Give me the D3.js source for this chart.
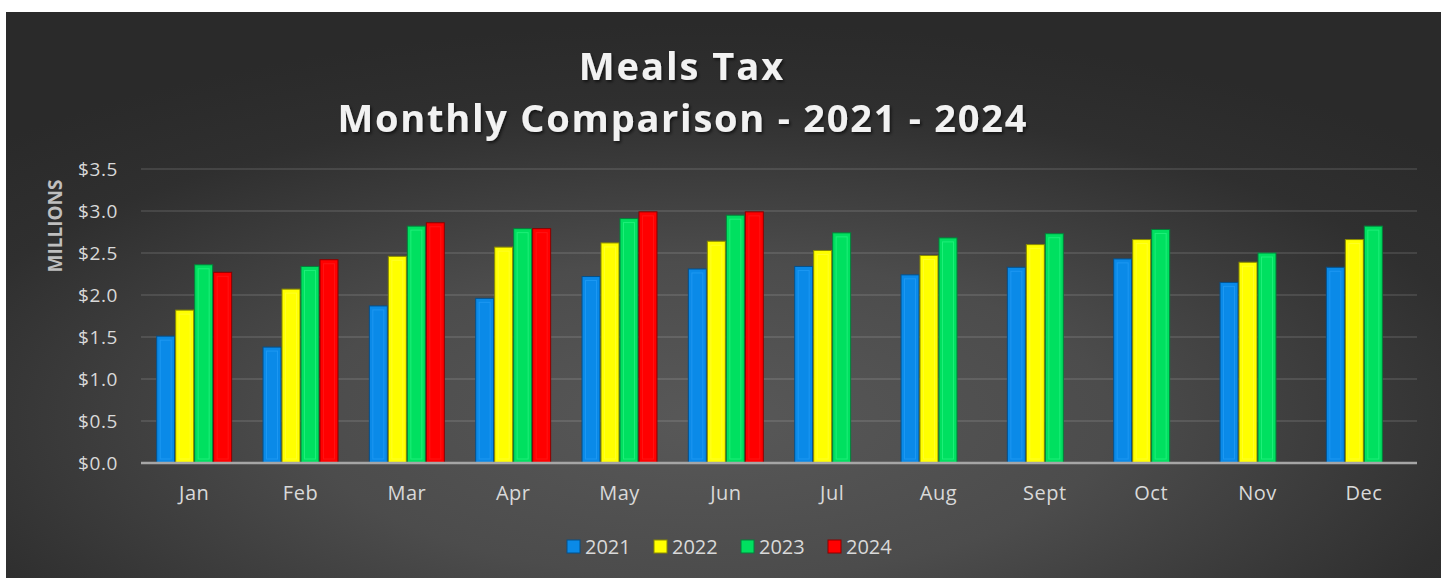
<!DOCTYPE html>
<html><head><meta charset="utf-8">
<script src="https://cdn.jsdelivr.net/npm/d3@7"></script>
<style>html,body{margin:0;padding:0;background:#fff;}svg{display:block;}</style>
</head><body>
<svg id="chart" width="1441" height="578"></svg>
<script>
const months = ["Jan","Feb","Mar","Apr","May","Jun","Jul","Aug","Sept","Oct","Nov","Dec"];
const years = ["2021","2022","2023","2024"];
const v2021 = [1.51,1.38,1.87,1.96,2.22,2.31,2.34,2.24,2.33,2.43,2.15,2.33];
const v2022 = [1.82,2.07,2.46,2.57,2.62,2.64,2.53,2.47,2.60,2.66,2.39,2.66];
const v2023 = [2.36,2.34,2.82,2.79,2.91,2.95,2.74,2.68,2.73,2.78,2.50,2.82];
const v2024 = [2.27,2.42,2.86,2.79,2.99,2.99,null,null,null,null,null,null];
const yTicks = [0,0.5,1.0,1.5,2.0,2.5,3.0,3.5];
const titleLines = ["Meals Tax","Monthly Comparison - 2021 - 2024"];
const yLabel = "MILLIONS";

const seriesValues = [v2021,v2022,v2023,v2024];
const fills = ["#0a8ae8","#ffff00","#00e060","#ff0000"];
const strokes = ["#05508a","#8a8a00","#03803a","#8a0000"];
const highlights = ["#2aa2f8","#ffff40","#30f88a","#ff2020"];

const svg = d3.select("#chart");
const defs = svg.append("defs");
const grad = defs.append("radialGradient").attr("id","bg")
  .attr("cx",0.49).attr("cy",0.72).attr("r",0.7).attr("fx",0.49).attr("fy",0.72);
grad.append("stop").attr("offset",0).attr("stop-color","#585858");
grad.append("stop").attr("offset",0.4).attr("stop-color","#4c4c4c");
grad.append("stop").attr("offset",0.8).attr("stop-color","#2f2f2f");
grad.append("stop").attr("offset",1).attr("stop-color","#2a2a2a");
const sh = defs.append("filter").attr("id","shadow").attr("x","-10%").attr("y","-20%").attr("width","120%").attr("height","150%");
sh.append("feDropShadow").attr("dx",1.5).attr("dy",2).attr("stdDeviation",1.5).attr("flood-color","#000").attr("flood-opacity",0.6);

svg.append("rect").attr("x",6).attr("y",12).attr("width",1435).attr("height",566).attr("fill","url(#bg)");

const x0 = d3.scaleBand().domain(months).range([141,1417]).paddingInner(0).paddingOuter(0);
const x1 = d3.scaleBand().domain(years).range([0,x0.bandwidth()]).paddingInner(0).paddingOuter(0.8);
const y = d3.scaleLinear().domain([0,3.5]).range([463,169]);

// gridlines
svg.append("g").selectAll("line").data(yTicks.filter(d=>d>0)).join("line")
  .attr("x1",141).attr("x2",1417).attr("y1",d=>y(d)).attr("y2",d=>y(d))
  .attr("stroke","#ffffff").attr("stroke-opacity",0.14).attr("stroke-width",1.5);

// y axis
const yAxis = svg.append("g").attr("transform","translate(128,0)")
  .call(d3.axisLeft(y).tickValues(yTicks).tickFormat(d3.format("$.1f")).tickSize(0).tickPadding(0));
yAxis.select(".domain").remove();
yAxis.selectAll("text").attr("fill","#d9d9d9").attr("font-family","Open Sans").attr("font-size",19)
  .attr("letter-spacing",0.6).attr("x",-10);

// bars
const groups = svg.append("g").selectAll("g").data(months).join("g")
  .attr("transform",d=>`translate(${x0(d)},0)`);
const barData = (m,i)=>years.map((yr,s)=>({yr,s,v:seriesValues[s][i]})).filter(d=>d.v!=null);
groups.each(function(m,i){
  const g = d3.select(this);
  const data = barData(m,i);
  g.selectAll("rect.bar").data(data).join("rect").attr("class","bar")
    .attr("x",d=>x1(d.yr)+0.5).attr("width",x1.bandwidth()-1)
    .attr("y",d=>y(d.v)).attr("height",d=>y(0)-y(d.v))
    .attr("fill",d=>fills[d.s]).attr("stroke",d=>strokes[d.s]).attr("stroke-width",1);
  g.selectAll("rect.hl").data(data).join("rect").attr("class","hl")
    .attr("x",d=>x1(d.yr)+4).attr("width",x1.bandwidth()-8)
    .attr("y",d=>y(d.v)+4).attr("height",d=>Math.max(0,y(0)-y(d.v)-8))
    .attr("fill","none").attr("stroke",d=>highlights[d.s]).attr("stroke-width",1).attr("stroke-opacity",0.6);
});

// baseline
svg.append("line").attr("x1",141).attr("x2",1417).attr("y1",y(0)).attr("y2",y(0))
  .attr("stroke","#a6a6a6").attr("stroke-width",2.5);

// x axis
const xAxis = svg.append("g").attr("transform",`translate(0,${y(0)})`)
  .call(d3.axisBottom(x0).tickSize(0).tickPadding(23));
xAxis.select(".domain").remove();
xAxis.selectAll("text").attr("fill","#d9d9d9").attr("font-family","Open Sans").attr("font-size",20)
  .attr("letter-spacing",0.5);

// y label
svg.append("text").attr("transform","translate(61.5,226) rotate(-90)").attr("text-anchor","middle")
  .attr("fill","#bfbfbf").attr("font-family","Open Sans").attr("font-weight","bold").attr("font-size",19)
  .text(yLabel);

// title
svg.append("text").attr("x",682).attr("y",80).attr("text-anchor","middle")
  .attr("fill","#f2f2f2").attr("font-family","Open Sans").attr("font-weight","bold").attr("font-size",38)
  .attr("letter-spacing",2).attr("filter","url(#shadow)").text(titleLines[0]);
svg.append("text").attr("x",682).attr("y",132).attr("text-anchor","middle")
  .attr("fill","#f2f2f2").attr("font-family","Open Sans").attr("font-weight","bold").attr("font-size",38)
  .attr("textLength",689).attr("lengthAdjust","spacing").attr("filter","url(#shadow)").text(titleLines[1]);

// legend
const legend = svg.append("g").selectAll("g").data(years).join("g")
  .attr("transform",(d,i)=>`translate(${567+i*87},540)`);
legend.append("rect").attr("width",13).attr("height",13)
  .attr("fill",(d,i)=>fills[i]).attr("stroke",(d,i)=>strokes[i]).attr("stroke-width",1);
legend.append("text").attr("x",18).attr("y",14).attr("fill","#d9d9d9")
  .attr("font-family","Open Sans").attr("font-size",20).text(d=>d);
</script>
</body></html>
